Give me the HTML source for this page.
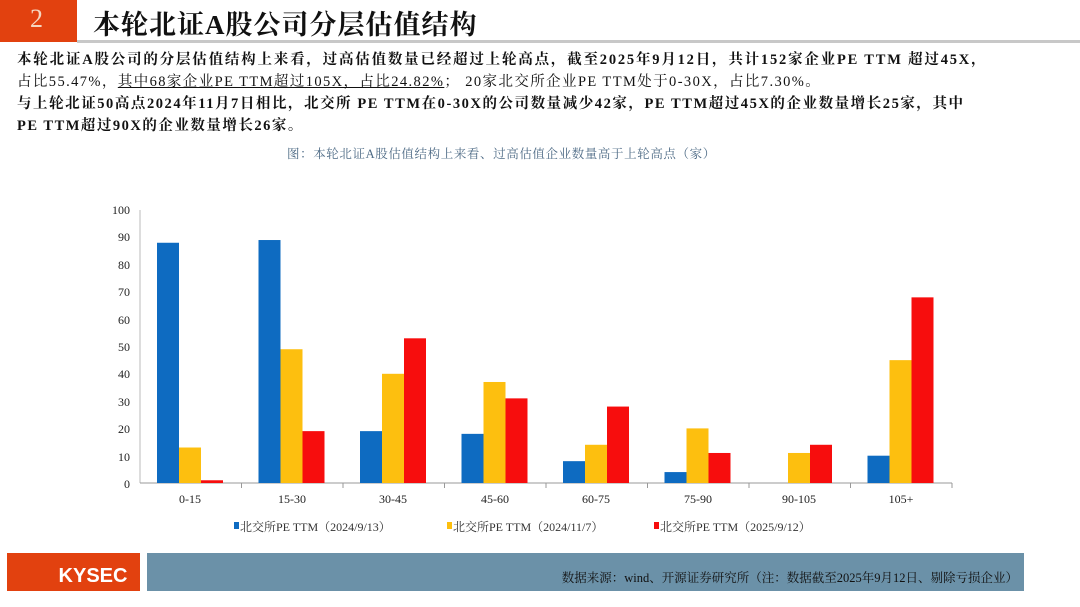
<!DOCTYPE html>
<html><head><meta charset="utf-8"><style>
body{margin:0;width:1080px;height:607px;background:#fff;position:relative;overflow:hidden;font-family:"Liberation Serif","Noto Serif CJK SC",serif}
.t{position:absolute;white-space:nowrap}
.l{position:absolute;left:17px;font-size:14.5px;color:#111;font-weight:bold;white-space:nowrap}
</style></head><body>
<div style="position:absolute;left:0;top:0;width:77px;height:42px;background:#e2410f"></div>
<div class="t" style="left:30px;top:4px;font-size:26px;color:#f5d6c0">2</div>
<div class="t" style="left:93px;top:3px;font-size:27px;color:#111;font-weight:bold;letter-spacing:1px">本轮北证A股公司分层估值结构</div>
<div style="position:absolute;left:77px;top:40px;width:1003px;height:3px;background:#c8c8c8"></div>
<div class="l" style="top:48px;letter-spacing:1.8px">本轮北证A股公司的分层估值结构上来看，过高估值数量已经超过上轮高点，截至2025年9月12日，共计152家企业PE TTM 超过45X，</div>
<div class="l" style="top:70px;letter-spacing:1.4px;font-weight:normal">占比55.47%，<span style="text-decoration:underline">其中68家企业PE TTM超过105X，占比24.82%</span>； 20家北交所企业PE TTM处于0-30X，占比7.30%。</div>
<div class="l" style="top:92px;letter-spacing:1.55px">与上轮北证50高点2024年11月7日相比，北交所 PE TTM在0-30X的公司数量减少42家，PE TTM超过45X的企业数量增长25家，其中</div>
<div class="l" style="top:114px;letter-spacing:1.5px">PE TTM超过90X的企业数量增长26家。</div>
<div class="t" style="left:287px;top:144px;font-size:12.5px;color:#4d6a85;letter-spacing:0.6px">图：本轮北证A股估值结构上来看、过高估值企业数量高于上轮高点（家）</div>
<svg style="position:absolute;left:0;top:0" width="1080" height="607" font-family="Liberation Serif" font-size="12">
<g fill="#222" text-anchor="end">
<text x="130" y="214">100</text><text x="130" y="241">90</text><text x="130" y="269">80</text><text x="130" y="296">70</text><text x="130" y="324">60</text><text x="130" y="351">50</text><text x="130" y="378">40</text><text x="130" y="406">30</text><text x="130" y="433">20</text><text x="130" y="461">10</text><text x="130" y="488">0</text>
</g>
<line x1="140" y1="210" x2="140" y2="483" stroke="#bbb"/>
<line x1="140" y1="483" x2="952" y2="483" stroke="#999"/>
<g id="bars"></g>
<g fill="#222" text-anchor="middle" font-size="12">
<text x="190" y="503">0-15</text><text x="292" y="503">15-30</text><text x="393" y="503">30-45</text><text x="495" y="503">45-60</text><text x="596" y="503">60-75</text><text x="698" y="503">75-90</text><text x="799" y="503">90-105</text><text x="901" y="503">105+</text>
</g>
<g font-size="12" fill="#333" font-family="Liberation Serif,Noto Serif CJK SC,serif">
<rect x="234" y="522" width="5" height="7" fill="#0e6bc1"/><text x="240" y="531">北交所PE TTM（2024/9/13）</text>
<rect x="447" y="522" width="5" height="7" fill="#fdbf0f"/><text x="453" y="531">北交所PE TTM（2024/11/7）</text>
<rect x="654" y="522" width="5" height="7" fill="#f70d0d"/><text x="660" y="531">北交所PE TTM（2025/9/12）</text>
</g>
<rect x="7" y="553" width="133" height="38" fill="#e2410f"/>
<text x="93" y="582" text-anchor="middle" font-family="Liberation Sans, sans-serif" font-weight="bold" font-size="20" fill="#fff">KYSEC</text>
<rect x="147" y="553" width="877" height="38" fill="#6b91a8"/>
<text x="1018" y="582" text-anchor="end" font-size="12.5" fill="#111" font-family="Liberation Serif,Noto Serif CJK SC,serif">数据来源：wind、开源证券研究所（注：数据截至2025年9月12日、剔除亏损企业）</text>
</svg>
<script>
var d=[[88,13,1],[89,49,19],[19,40,53],[18,37,31],[8,14,28],[4,20,11],[0,11,14],[10,45,68]];
var c=["#0e6bc1","#fdbf0f","#f70d0d"],s="";
d.forEach(function(g,i){var x0=140+101.5*i+17;g.forEach(function(v,j){var h=v*2.73;s+='<rect x="'+(x0+22*j)+'" y="'+(483-h)+'" width="22" height="'+h+'" fill="'+c[j]+'"/>';});
s+='<line x1="'+(140+101.5*(i+1))+'" y1="483" x2="'+(140+101.5*(i+1))+'" y2="488" stroke="#999"/>';});
document.getElementById("bars").innerHTML=s;
</script>
</body></html>
